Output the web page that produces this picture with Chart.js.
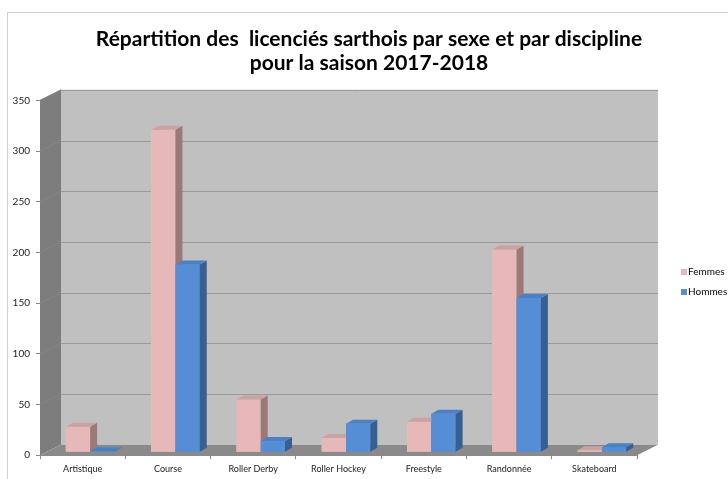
<!DOCTYPE html>
<html>
<head>
<meta charset="utf-8">
<script src="https://cdn.jsdelivr.net/npm/chart.js@4.4.0/dist/chart.umd.min.js"></script>
<style>
  html, body { margin: 0; padding: 0; background: #fff; }
</style>
</head>
<body>
<canvas id="myChart" width="728" height="479"></canvas>
<script>
var disciplines = ['Artistique', 'Course', 'Roller Derby', 'Roller Hockey', 'Freestyle', 'Randonnée', 'Skateboard']
var femmes = [25, 318, 52, 14, 30, 200, 2]
var hommes = [1, 185, 11, 28, 38, 152, 5]
var yTicks = [0, 50, 100, 150, 200, 250, 300, 350]

// 3d look: depth of the walls and of the bars
var DX = 21, DY = 10.5
var BDX = 7, BDY = 4
var SHIFT_X = 7.5, SHIFT_Y = 3

var faces = [
    { front: '#e6b9b8', side: '#9b7978', top: '#caa2a1' },
    { front: '#558ed5', side: '#365f93', top: '#4a80c4' }
]

function poly(c, pts, color) {
    c.fillStyle = color
    c.beginPath()
    c.moveTo(pts[0][0], pts[0][1])
    for (var i = 1; i < pts.length; i++) c.lineTo(pts[i][0], pts[i][1])
    c.closePath()
    c.fill()
}

var walls3d = {
    id: 'walls3d',
    beforeDatasetsDraw: function(chart) {
        var c = chart.ctx, a = chart.chartArea, y = chart.scales.y
        var L = a.left, R = a.right, T = a.top, B = a.bottom
        c.save()
        // back wall
        poly(c, [[L+DX, T-DY], [R+DX, T-DY], [R+DX, B-DY], [L+DX, B-DY]], '#c0c0c0')
        c.lineWidth = 1
        yTicks.forEach(function(v) {
            if (v == 0) return
            var py = Math.round(y.getPixelForValue(v) - DY) + 0.5
            c.strokeStyle = '#9a9a9a'
            c.beginPath(); c.moveTo(L+DX, py); c.lineTo(R+DX, py); c.stroke()
        })
        // left wall
        poly(c, [[L, T], [L+DX, T-DY], [L+DX, B-DY], [L, B]], '#7d7d7d')
        yTicks.forEach(function(v) {
            if (v == 0) return
            var py = y.getPixelForValue(v)
            c.strokeStyle = '#868686'
            c.beginPath(); c.moveTo(L, py); c.lineTo(L+DX, py-DY); c.stroke()
        })
        // floor
        poly(c, [[L, B], [L+DX, B-DY], [R+DX, B-DY], [R, B]], '#8a8a8a')
        c.restore()
        c.save()
        c.translate(SHIFT_X, -SHIFT_Y)
    },
    afterDatasetsDraw: function(chart) {
        // redraw bars category by category, left bar first, with their side and top
        var c = chart.ctx
        var metas = chart.data.datasets.map(function(ds, i) { return chart.getDatasetMeta(i) })
        for (var j = 0; j < disciplines.length; j++) {
            metas.forEach(function(meta, i) {
                var el = meta.data[j]
                var f = faces[i]
                var p = el.getProps(['x', 'y', 'base', 'width'], true)
                var l = p.x - p.width/2, r = p.x + p.width/2
                el.draw(c)
                poly(c, [[r, p.y], [r+BDX, p.y-BDY], [r+BDX, p.base-BDY], [r, p.base]], f.side)
                poly(c, [[l, p.y], [l+BDX, p.y-BDY], [r+BDX, p.y-BDY], [r, p.y]], f.top)
            })
        }
        c.restore()
    },
    afterDraw: function(chart) {
        var c = chart.ctx
        c.save()
        // frame of the chart
        c.strokeStyle = '#cfcfcf'
        c.lineWidth = 1
        c.beginPath(); c.moveTo(7.5, 479); c.lineTo(7.5, 12.5); c.lineTo(728, 12.5); c.stroke()
        // legend
        c.font = '10px Lato'
        c.textBaseline = 'middle'
        chart.data.datasets.forEach(function(ds, i) {
            var ly = 272 + i*20
            c.fillStyle = ds.backgroundColor
            c.fillRect(681, ly-3, 6, 6)
            c.fillStyle = '#000'
            c.fillText(ds.label, 688, ly)
        })
        c.restore()
    }
}

var ctx = document.getElementById('myChart').getContext('2d')
var myChart = new Chart(ctx, {
    type: 'bar',
    data: {
        labels: disciplines,
        datasets: [{
            label: 'Femmes',
            data: femmes,
            backgroundColor: faces[0].front
        }, {
            label: 'Hommes',
            data: hommes,
            backgroundColor: faces[1].front
        }]
    },
    options: {
        responsive: false,
        animation: false,
        layout: {
            padding: { left: 10, right: 0, top: 0, bottom: 1 }
        },
        datasets: {
            bar: {
                categoryPercentage: 0.57,
                barPercentage: 1,
                borderWidth: 0
            }
        },
        plugins: {
            legend: { display: false },
            tooltip: { enabled: false },
            title: {
                display: true,
                text: ['Répartition des  licenciés sarthois par sexe et par discipline', 'pour la saison 2017-2018'],
                color: '#000',
                font: { family: 'Lato', size: 21, weight: 'bold', lineHeight: 1.15 },
                padding: { top: 27, bottom: 25 }
            }
        },
        scales: {
            x: {
                grid: { drawOnChartArea: false, tickLength: 4, color: '#888' },
                border: { color: '#888' },
                ticks: {
                    color: '#222',
                    padding: 4,
                    maxRotation: 0,
                    font: { family: 'Lato', size: 9 }
                }
            },
            y: {
                min: 0,
                max: 350,
                afterFit: function(scale) { scale.width = 30 },
                afterBuildTicks: function(scale) {
                    scale.ticks = yTicks.map(function(v) { return { value: v } })
                },
                grid: { drawOnChartArea: false, tickLength: 4, color: '#888' },
                border: { color: '#888' },
                ticks: {
                    color: '#222',
                    padding: 6,
                    font: { family: 'Lato', size: 10 }
                }
            },
            y2: {
                type: 'linear',
                position: 'right',
                afterFit: function(scale) { scale.width = 91 },
                grid: { display: false },
                border: { display: false },
                ticks: { display: false }
            }
        }
    },
    plugins: [walls3d]
})
</script>
</body>
</html>
